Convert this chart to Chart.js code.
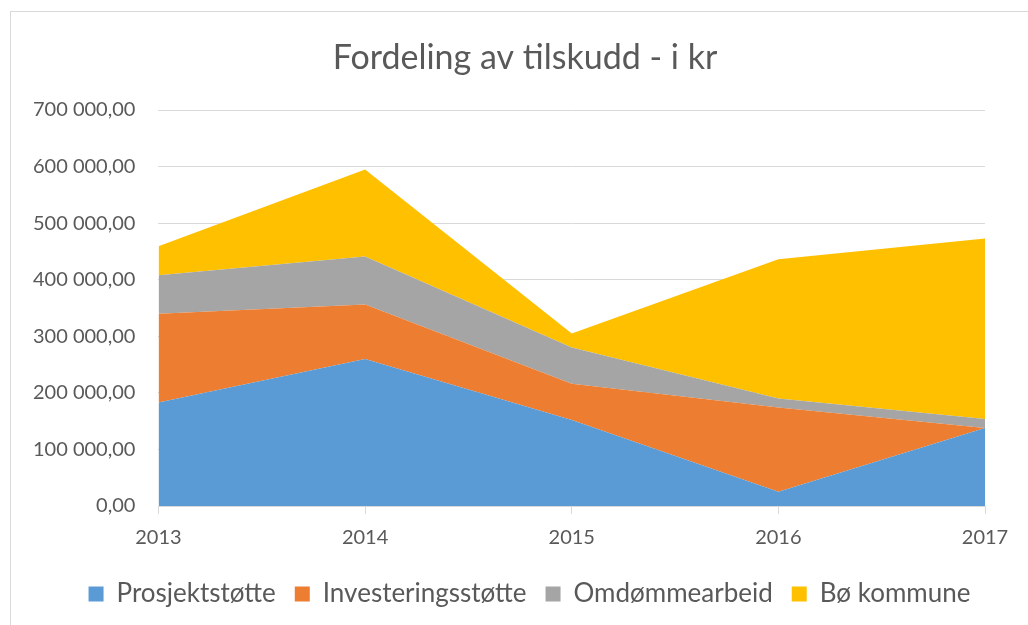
<!DOCTYPE html>
<html>
<head>
<meta charset="utf-8">
<script src="https://cdn.jsdelivr.net/npm/chart.js@4"></script>
<style>
  body { margin: 0; background: #fff; }
  #wrap { position: relative; width: 1028px; height: 625px; }
  #frame { position: absolute; left: 10px; top: 11px; width: 1030px; height: 640px; border: 1px solid #d9d9d9; box-sizing: border-box; }
  canvas { position: absolute; left: 0; top: 0; }
</style>
</head>
<body>
<div id="wrap">
  <div id="frame"></div>
  <canvas id="chart" width="1028" height="625"></canvas>
</div>
<script>
// data
const years = ['2013', '2014', '2015', '2016', '2017'];
const prosjektstotte = [183000, 260000, 152000, 25000, 138000];
const investeringsstotte = [157000, 96000, 64000, 149000, 0];
const omdommearbeid = [68000, 85000, 64000, 16000, 16000];
const boKommune = [51000, 154000, 25000, 246000, 319000];
const chartTitle = 'Fordeling av tilskudd - i kr';

const textColor = '#595959';
const gridColor = '#d9d9d9';
const font = 'Lato, "Open Sans", sans-serif';

function fmt(v) {
    const s = Math.round(v).toString().replace(/\B(?=(\d{3})+(?!\d))/g, ' ');
    return s + ',00';
}

function area(label, data, color, i) {
    return {
        label: label,
        data: data,
        backgroundColor: color,
        borderColor: color,
        borderWidth: 0,
        pointRadius: 0,
        fill: i === 0 ? 'origin' : '-1',
        tension: 0
    };
}

// title drawn over the whole frame, not just the padded area
const titlePlugin = {
    id: 'frameTitle',
    afterLayout(chart) {
        // centre the legend on the frame rather than the padded area
        if (chart.legend) {
            chart.legend.left += 32;
            chart.legend.right += 32;
        }
    },
    afterDraw(chart) {
        const ctx = chart.ctx;
        ctx.save();
        ctx.font = '34px ' + font;
        ctx.fillStyle = textColor;
        ctx.textAlign = 'center';
        ctx.textBaseline = 'middle';
        ctx.fillText(chartTitle, 525, 58);
        ctx.restore();
    }
};

new Chart(document.getElementById('chart'), {
    type: 'line',
    data: {
        labels: years,
        datasets: [
            area('Prosjektstøtte', prosjektstotte, '#5B9BD5', 0),
            area('Investeringsstøtte', investeringsstotte, '#ED7D31', 1),
            area('Omdømmearbeid', omdommearbeid, '#A5A5A5', 2),
            area('Bø kommune', boKommune, '#FFC000', 3)
        ]
    },
    options: {
        responsive: false,
        animation: false,
        layout: { padding: { left: 10, right: 43, top: 110, bottom: 8 } },
        plugins: {
            title: { display: false },
            legend: {
                position: 'bottom',
                labels: {
                    color: textColor,
                    font: { family: font, size: 26 },
                    boxWidth: 15,
                    boxHeight: 15,
                    padding: 19
                }
            },
            tooltip: { enabled: false }
        },
        scales: {
            x: {
                offset: false,
                grid: { drawOnChartArea: false, drawTicks: true, tickLength: 8, color: gridColor },
                border: { color: gridColor },
                ticks: { color: textColor, font: { family: font, size: 20 }, maxRotation: 0, padding: 12 }
            },
            y: {
                stacked: true,
                min: 0,
                max: 700000,
                grid: { color: gridColor, drawTicks: false },
                border: { display: false },
                ticks: {
                    stepSize: 100000,
                    color: textColor,
                    font: { family: font, size: 20 },
                    padding: 23,
                    callback: v => fmt(v)
                }
            }
        }
    },
    plugins: [titlePlugin]
});
</script>
</body>
</html>
